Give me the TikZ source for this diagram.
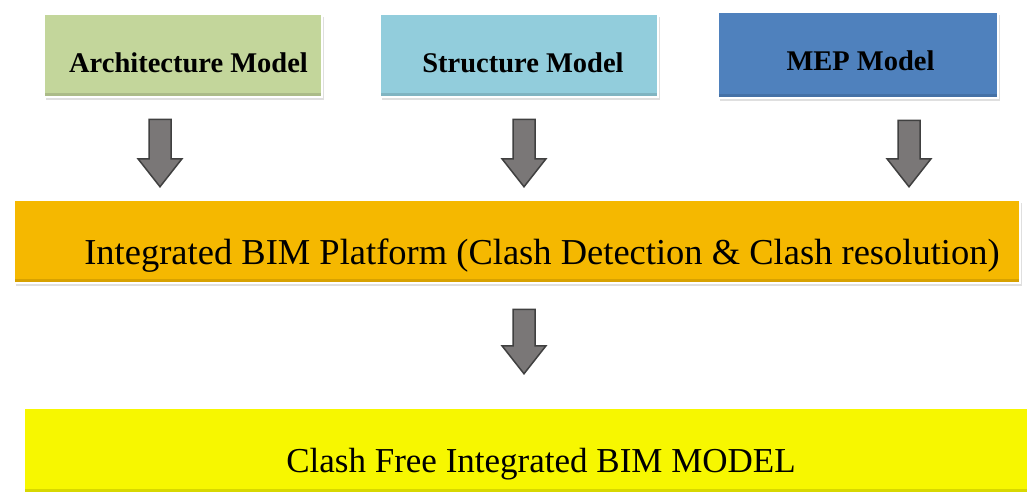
\documentclass[tikz,border=0pt]{standalone}
\usepackage{fontspec}
\setmainfont{Liberation Serif}
\usetikzlibrary{shadows,calc}
\definecolor{arq}{HTML}{C3D69B}
\definecolor{est}{HTML}{92CDDC}
\definecolor{mep}{HTML}{4F81BD}
\definecolor{nar}{HTML}{F5B800}
\definecolor{ama}{HTML}{F7F700}
\definecolor{gri}{HTML}{7A7777}
\tikzset{%
    caj/.style={rectangle, draw=white, line width=2.5pt, inner sep=0pt, text height=0pt, text depth=0pt,
        drop shadow={shadow xshift=2pt,shadow yshift=-3pt,opacity=0.25},
        path picture={\fill[black,opacity=0.12] (path picture bounding box.south west) rectangle ([yshift=4pt]path picture bounding box.south east);}},
    mod/.style={caj, minimum width=278pt, minimum height=83pt, font=\bfseries\fontsize{28.5}{30}\selectfont},
    pla/.style={caj, minimum width=1006pt, minimum height=83pt, font=\fontsize{36.5}{40}\selectfont},
    fle/.style={draw=black!75, line width=1.5pt, fill=gri, line join=miter,
        to path={($(\tikztostart)+(-11,0)$) -- ($(\tikztotarget)+(-11,-28)$) -- ($(\tikztotarget)+(-22,-28)$) -- (\tikztotarget)
            -- ($(\tikztotarget)+(22,-28)$) -- ($(\tikztotarget)+(11,-28)$) -- ($(\tikztostart)+(11,0)$) -- cycle}}
}
\begin{document}
\begin{tikzpicture}[x=1pt,y=-1pt] %flujo BIM
    \clip (0,0) rectangle (1027,493);
    \fill[white] (0,0) rectangle (1027,493);
    \node[mod,fill=arq] (arch) at (183,55.5) {\hspace*{11pt}\raisebox{-16.5pt}{Architecture Model}};
    \node[mod,fill=est] (estr) at (519,55.5) {\hspace*{8pt}\raisebox{-16.5pt}{Structure Model}};
    \node[mod,fill=mep,minimum width=280pt,minimum height=86pt] (mep) at (858,55) {\hspace*{5pt}\raisebox{-15pt}{MEP Model}};
    \node[pla,fill=nar] (plat) at (517,241.5) {\hspace*{50pt}\raisebox{-22.5pt}{Integrated BIM Platform (Clash Detection \& Clash resolution)}};
    \node[pla,fill=ama,minimum width=1010pt,minimum height=85pt,font=\fontsize{35}{38}\selectfont] (libre) at (529,450.5) {\hspace*{24pt}\raisebox{-21.5pt}{Clash Free Integrated BIM MODEL}};
    \path[fle] ([shift={(-23,21)}]arch.south) to ([shift={(-23,-12)}]arch.south |- plat.north);
    \path[fle] ([shift={(5,21)}]estr.south) to ([shift={(5,-12)}]estr.south |- plat.north);
    \path[fle] ([shift={(51,21)}]mep.south) to ([shift={(51,-12)}]mep.south |- plat.north);
    \path[fle] ([shift={(7,25)}]plat.south) to ([shift={(7,-33)}]plat.south |- libre.north);
\end{tikzpicture}
\end{document}
